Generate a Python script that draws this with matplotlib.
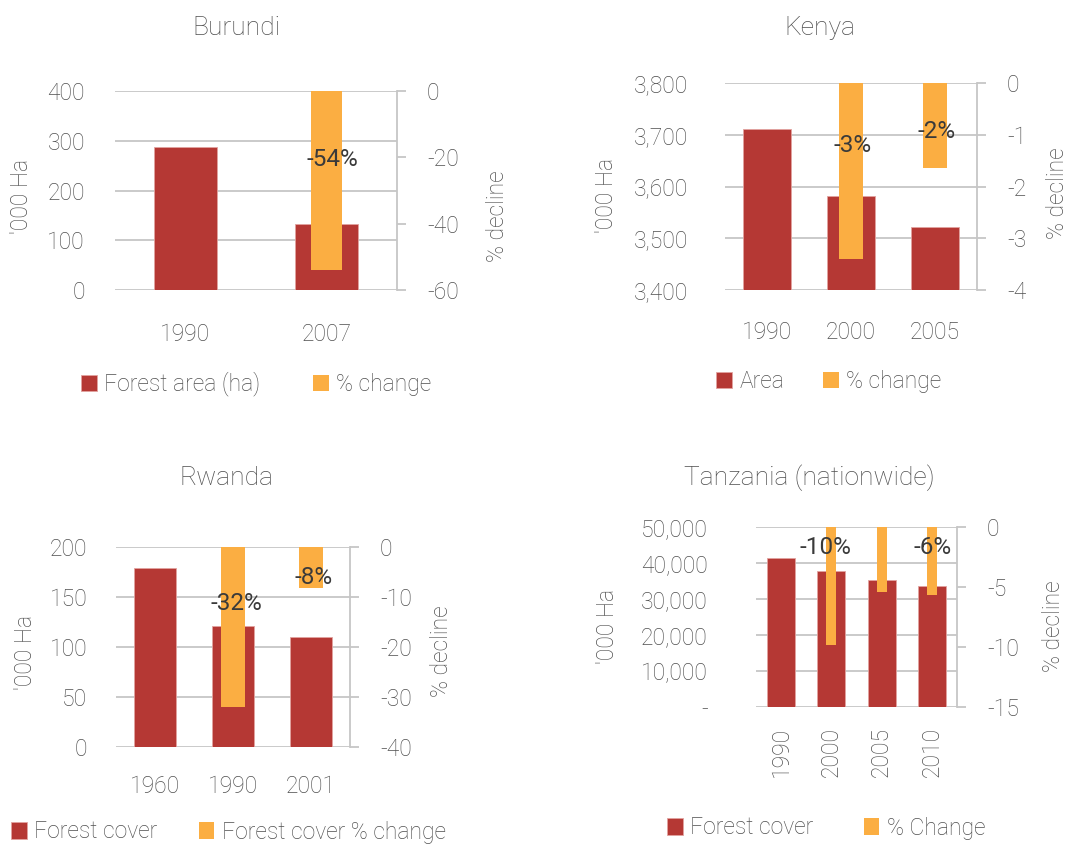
import numpy as np
import matplotlib
matplotlib.use("Agg")
import matplotlib.pyplot as plt
import matplotlib.ticker as mticker

plt.rcParams["font.family"] = ["Roboto", "DejaVu Sans"]
plt.rcParams["font.weight"] = "light"

RED = "#B53834"
ORANGE = "#FBAE42"
GRID = "#c6c6c6"
TEXT = "#4f4f4f"
LABEL = "#3a3a3a"
FS = 16.5

W, H = 1068, 844

# ---- data ----
burundi_years = ["1990", "2007"]
burundi_area = [287, 133]
burundi_pct = [None, -54]
burundi_labels = [None, "-54%"]

kenya_years = ["1990", "2000", "2005"]
kenya_area = [3711, 3582, 3522]
kenya_pct = [None, -3.4, -1.65]
kenya_labels = [None, "-3%", "-2%"]

rwanda_years = ["1960", "1990", "2001"]
rwanda_cover = [179, 121, 110]
rwanda_pct = [None, -32, -8.2]
rwanda_labels = [None, "-32%", "-8%"]

tanzania_years = ["1990", "2000", "2005", "2010"]
tanzania_cover = [41400, 37800, 35300, 33600]
tanzania_pct = [None, -9.8, -5.4, -5.7]
tanzania_labels = [None, "-10%", None, "-6%"]

fig = plt.figure(figsize=(W / 100, H / 100), dpi=100)


def px_axes(l, t, r, b):
    return fig.add_axes([l / W, 1 - b / H, (r - l) / W, (b - t) / H])


def panel(box, cats, vals, pcts, labels, lab_pos, ylim, ystep, rlim, rstep,
          red_w, org_w, lpad, xpad, fmt=None, rot=0):
    ax = px_axes(*box)
    x = np.arange(len(cats))
    ax.bar(x, vals, width=red_w, color=RED, edgecolor="#e2a3a0", linewidth=0.6,
           zorder=2)
    ax.set_ylim(*ylim)
    ax.set_xlim(-0.5, len(cats) - 0.5)
    ax.set_yticks(np.arange(ylim[0], ylim[1] + ystep / 2, ystep))
    if fmt is not None:
        ax.yaxis.set_major_formatter(mticker.FuncFormatter(fmt))
    ax.set_xticks(x)
    ax.set_xticklabels(cats, rotation=rot)
    ax.grid(axis="y", color=GRID, linewidth=1.3, zorder=0)
    ax.set_axisbelow(True)
    for s in ax.spines.values():
        s.set_visible(False)
    ax.tick_params(axis="y", length=0, pad=lpad, labelsize=FS, labelcolor=TEXT)
    ax.tick_params(axis="x", length=0, pad=xpad, labelsize=FS, labelcolor=TEXT)

    ax2 = ax.twinx()
    idx = [i for i, p in enumerate(pcts) if p is not None]
    ax2.bar([x[i] for i in idx], [pcts[i] for i in idx], width=org_w,
            color=ORANGE, zorder=3)
    ax2.set_ylim(*rlim)
    ax2.set_yticks(np.arange(rlim[0], rlim[1] + rstep / 2, rstep))
    ax2.yaxis.set_major_formatter(mticker.FuncFormatter(lambda v, p: f"{v:g}"))
    for k, s in ax2.spines.items():
        s.set_visible(k == "right")
    ax2.spines["right"].set_color(GRID)
    ax2.spines["right"].set_linewidth(1.3)
    ax2.tick_params(axis="y", length=6.5, width=1.3, color=GRID, pad=15,
                    labelsize=FS, labelcolor=TEXT, direction="out")
    for i, lab in enumerate(labels):
        if lab is None:
            continue
        dx, yy = lab_pos[i]
        ax2.text(x[i] + dx, yy, lab, ha="center", va="center", fontsize=17.5,
                 color=LABEL, fontweight="normal", zorder=5)
    return ax, ax2


def legend(ax, ax2, names, xy, spacing):
    h1 = ax.containers[0]
    h2 = ax2.containers[0]
    fig.legend([h1, h2], names, loc="center left",
               bbox_to_anchor=(xy[0] / W, 1 - xy[1] / H), ncol=2, frameon=False,
               fontsize=FS, labelcolor=TEXT, handlelength=0.68,
               handleheight=0.7, handletextpad=0.33, columnspacing=spacing,
               borderpad=0, borderaxespad=0)


def ftext(x, y, s, size=FS, rot=0):
    fig.text(x / W, 1 - y / H, s, ha="center", va="center", fontsize=size,
             color=TEXT, rotation=rot)


thousands = lambda v, p: f"{v:,.0f}"
tz_fmt = lambda v, p: "-" if v == 0 else f"{v:,.0f}"

# Burundi
a, b = panel((115, 91, 397, 290), burundi_years, burundi_area, burundi_pct,
             burundi_labels, [None, (0.04, -20.6)], (0, 400), 100, (-60, 0), 20,
             0.45, 0.22, 21.6, 24)
legend(a, b, ["Forest area (ha)", "% change"], (81, 384), 2.3)
ftext(236, 28, "Burundi", 19)
ftext(22, 196, "'000 Ha", rot=90)
ftext(497, 216, "% decline", rot=90)

# Kenya
a, b = panel((725, 83, 977, 290), kenya_years, kenya_area, kenya_pct,
             kenya_labels, [None, (0.02, -1.2), (0.02, -0.93)], (3400, 3800),
             100, (-4, 0), 1, 0.58, 0.29, 26.6, 22.5, fmt=thousands)
legend(a, b, ["Area", "% change"], (716, 382), 1.7)
ftext(820, 28, "Kenya", 19)
ftext(606, 195, "'000 Ha", rot=90)
ftext(1057, 193, "% decline", rot=90)

# Rwanda
a, b = panel((116, 547, 350, 747), rwanda_years, rwanda_cover, rwanda_pct,
             rwanda_labels, [None, (0.04, -11.2), (0.03, -6.2)], (0, 200), 50,
             (-40, 0), 10, 0.55, 0.31, 20.5, 20.5)
legend(a, b, ["Forest cover", "Forest cover % change"], (11, 832), 1.8)
ftext(226, 478, "Rwanda", 19)
ftext(25, 652, "'000 Ha", rot=90)
ftext(441, 651, "% decline", rot=90)

# Tanzania
a, b = panel((756, 527, 957, 707), tanzania_years, tanzania_cover, tanzania_pct,
             tanzania_labels, [None, (-0.12, -1.75), None, (0.02, -1.75)],
             (0, 50000), 10000, (-15, 0), 5, 0.56, 0.2, 34.6, 14.4,
             fmt=tz_fmt, rot=90)
legend(a, b, ["Forest cover", "% Change"], (667, 828), 2.2)
ftext(809, 478, "Tanzania (nationwide)", 19)
ftext(608, 626, "'000 Ha", rot=90)
ftext(1054, 626, "% decline", rot=90)

fig.savefig("out.png", dpi=100, facecolor="white")
